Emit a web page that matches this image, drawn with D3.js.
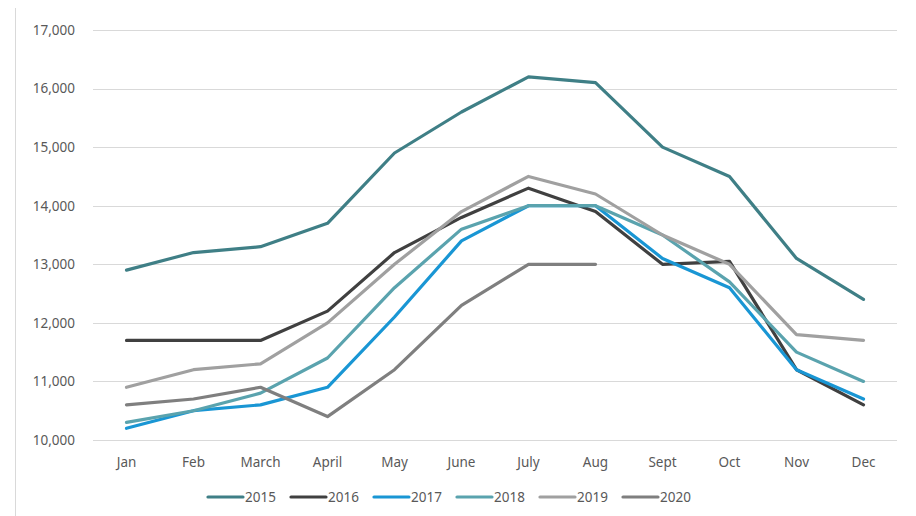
<!DOCTYPE html>
<html lang="en">
<head>
<meta charset="UTF-8">
<title>Monthly values 2015-2020</title>
<script src="https://cdnjs.cloudflare.com/ajax/libs/d3/7.8.5/d3.min.js"></script>
<style>
  body { margin: 0; background: #fff; }
  svg text { font-family: "Noto Sans", "Open Sans", sans-serif; fill: #595959; }
  .grid line { stroke: #d9d9d9; stroke-width: 1px; }
  .series { fill: none; stroke-width: 3.2px; stroke-linejoin: round; stroke-linecap: round; }
</style>
</head>
<body>
<svg id="chart" width="916" height="516"></svg>
<script>
// chart data
const months = ["Jan", "Feb", "March", "April", "May", "June", "July", "Aug", "Sept", "Oct", "Nov", "Dec"];
const years = ["2015", "2016", "2017", "2018", "2019", "2020"];
const colors = ["#3f7f86", "#404040", "#1996d4", "#5aa3ae", "#a0a0a0", "#7f7f7f"];
const yTicks = [10000, 11000, 12000, 13000, 14000, 15000, 16000, 17000];

const v2015 = [12900, 13200, 13300, 13700, 14900, 15600, 16200, 16100, 15000, 14500, 13100, 12400];
const v2016 = [11700, 11700, 11700, 12200, 13200, 13800, 14300, 13900, 13000, 13050, 11200, 10600];
const v2017 = [10200, 10500, 10600, 10900, 12100, 13400, 14000, 14000, 13100, 12600, 11200, 10700];
const v2018 = [10300, 10500, 10800, 11400, 12600, 13600, 14000, 14000, 13500, 12700, 11500, 11000];
const v2019 = [10900, 11200, 11300, 12000, 13000, 13900, 14500, 14200, 13500, 13000, 11800, 11700];
const v2020 = [10600, 10700, 10900, 10400, 11200, 12300, 13000, 13000];
const values = [v2015, v2016, v2017, v2018, v2019, v2020];

const svg = d3.select("#chart");

// left border line
svg.append("line")
  .attr("x1", 15.5).attr("x2", 15.5)
  .attr("y1", 8).attr("y2", 516)
  .attr("stroke", "#d9d9d9");

const x = d3.scaleBand().domain(months).range([93, 897]);
const y = d3.scaleLinear().domain([10000, 17000]).range([440, 30]);

// gridlines
svg.append("g").attr("class", "grid")
  .selectAll("line").data(yTicks).enter().append("line")
  .attr("x1", 93).attr("x2", 897)
  .attr("y1", d => Math.round(y(d)) + 0.5)
  .attr("y2", d => Math.round(y(d)) + 0.5);

// y axis
const yAxis = svg.append("g")
  .attr("transform", "translate(75,0)")
  .call(d3.axisLeft(y).tickValues(yTicks).tickSize(0).tickPadding(0).tickFormat(d3.format(",")));
yAxis.select(".domain").remove();
yAxis.selectAll("text").style("font-size", "13.5px");

// x axis
const xAxis = svg.append("g")
  .attr("transform", "translate(0,457)")
  .call(d3.axisBottom(x).tickSize(0).tickPadding(0));
xAxis.select(".domain").remove();
xAxis.selectAll("text").style("font-size", "13.5px");

// lines
const line = d3.line()
  .x((d, i) => x(months[i]) + x.bandwidth() / 2)
  .y(d => y(d));

svg.selectAll(".series").data(values).enter().append("path")
  .attr("class", "series")
  .attr("stroke", (d, i) => colors[i])
  .attr("d", line);

// legend
const legend = svg.append("g").attr("transform", "translate(208,497)");
const item = legend.selectAll("g").data(years).enter().append("g")
  .attr("transform", (d, i) => `translate(${i * 83},0)`);
item.append("line")
  .attr("x1", 0).attr("x2", 35)
  .attr("stroke", (d, i) => colors[i])
  .attr("stroke-width", 3.2)
  .attr("stroke-linecap", "round");
item.append("text")
  .attr("x", 37).attr("dy", "0.35em")
  .style("font-size", "13.5px")
  .text(d => d);
</script>
</body>
</html>
